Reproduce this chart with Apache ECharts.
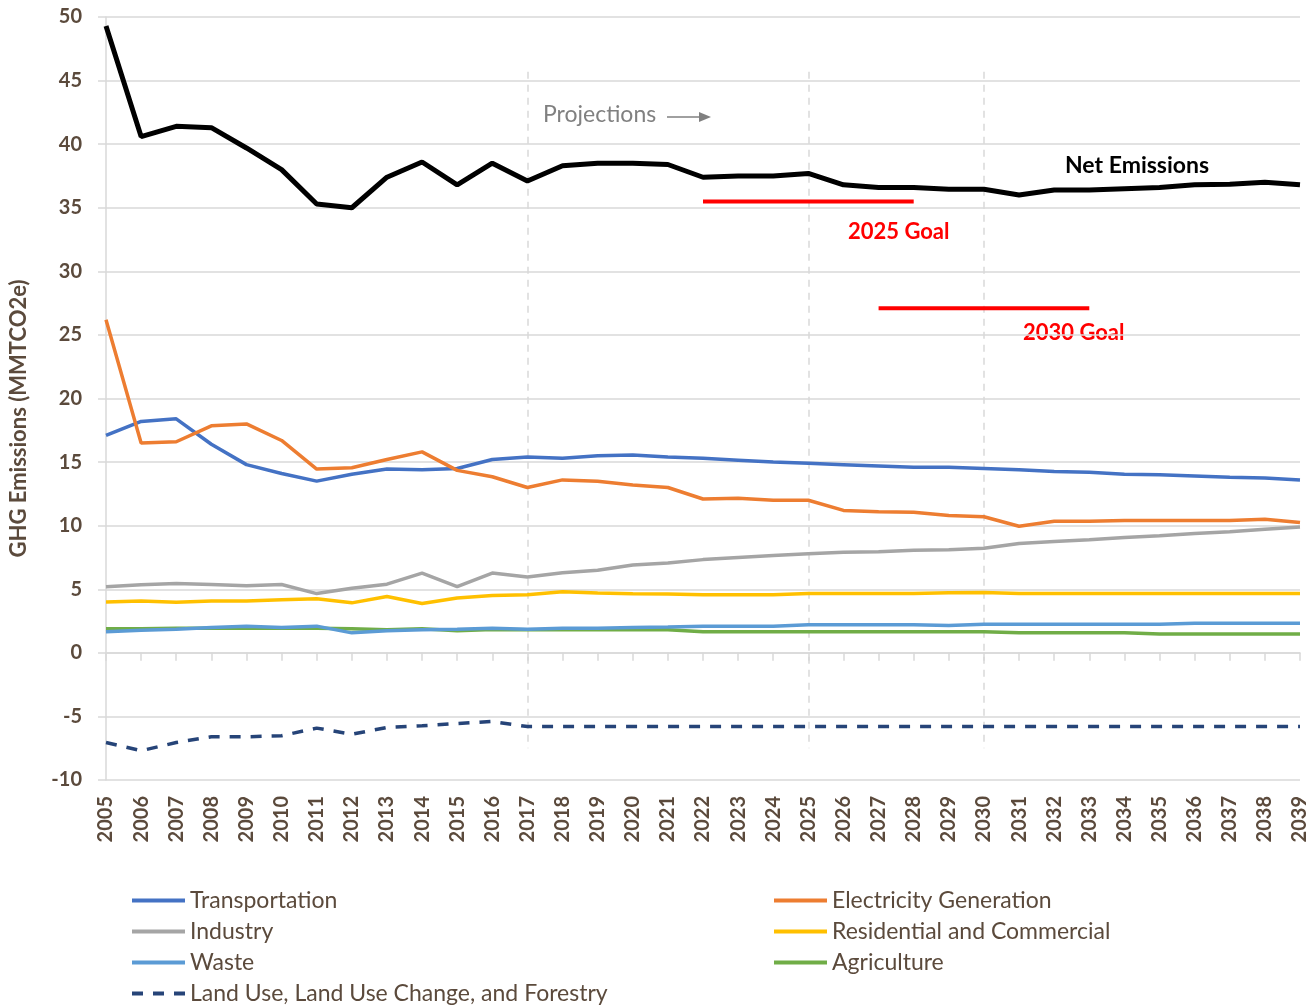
<!doctype html>
<html>
<head>
<meta charset="utf-8">
<title>GHG Emissions</title>
<script src="https://cdn.jsdelivr.net/npm/echarts@6/dist/echarts.min.js"></script>
<style>
	html, body { margin: 0; padding: 0; background: #fff; }
	#chart { width: 1316px; height: 1006px; }
</style>
</head>
<body>
<div id="chart"></div>
<script>
var years = ["2005", "2006", "2007", "2008", "2009", "2010", "2011", "2012", "2013", "2014", "2015", "2016", "2017", "2018", "2019", "2020", "2021", "2022", "2023", "2024", "2025", "2026", "2027", "2028", "2029", "2030", "2031", "2032", "2033", "2034", "2035", "2036", "2037", "2038", "2039"];
var netEmissions = [49.3, 40.6, 41.4, 41.3, 39.7, 38.0, 35.3, 35.0, 37.4, 38.6, 36.8, 38.5, 37.1, 38.3, 38.5, 38.5, 38.4, 37.4, 37.5, 37.5, 37.7, 36.8, 36.6, 36.6, 36.45, 36.45, 36.0, 36.4, 36.4, 36.5, 36.6, 36.8, 36.85, 37.0, 36.8];
var transportation = [17.1, 18.2, 18.4, 16.4, 14.8, 14.1, 13.5, 14.05, 14.45, 14.4, 14.5, 15.2, 15.4, 15.3, 15.5, 15.55, 15.4, 15.3, 15.15, 15.0, 14.9, 14.8, 14.7, 14.6, 14.6, 14.5, 14.4, 14.25, 14.2, 14.05, 14.0, 13.9, 13.8, 13.75, 13.6];
var electricity = [26.2, 16.5, 16.6, 17.85, 18.0, 16.7, 14.45, 14.55, 15.2, 15.8, 14.35, 13.85, 13.0, 13.6, 13.5, 13.2, 13.0, 12.1, 12.15, 12.0, 12.0, 11.2, 11.1, 11.05, 10.8, 10.7, 9.95, 10.35, 10.35, 10.4, 10.4, 10.4, 10.4, 10.5, 10.25];
var industry = [5.2, 5.35, 5.45, 5.37, 5.27, 5.37, 4.66, 5.08, 5.4, 6.27, 5.2, 6.27, 5.97, 6.3, 6.5, 6.9, 7.07, 7.33, 7.5, 7.65, 7.8, 7.9, 7.95, 8.07, 8.1, 8.23, 8.6, 8.75, 8.9, 9.06, 9.2, 9.38, 9.53, 9.72, 9.9];
var residential = [4.0, 4.08, 3.98, 4.08, 4.08, 4.17, 4.25, 3.93, 4.43, 3.88, 4.32, 4.5, 4.56, 4.8, 4.7, 4.64, 4.62, 4.56, 4.56, 4.56, 4.66, 4.66, 4.66, 4.66, 4.72, 4.74, 4.66, 4.66, 4.66, 4.66, 4.66, 4.66, 4.66, 4.66, 4.66];
var waste = [1.65, 1.78, 1.86, 1.99, 2.1, 1.99, 2.1, 1.57, 1.73, 1.81, 1.86, 1.94, 1.86, 1.94, 1.94, 1.99, 2.04, 2.1, 2.1, 2.1, 2.2, 2.2, 2.2, 2.2, 2.15, 2.25, 2.25, 2.25, 2.25, 2.25, 2.25, 2.33, 2.33, 2.33, 2.33];
var agriculture = [1.89, 1.89, 1.94, 1.94, 1.94, 1.94, 1.94, 1.89, 1.81, 1.89, 1.73, 1.84, 1.81, 1.81, 1.81, 1.81, 1.81, 1.65, 1.65, 1.65, 1.65, 1.65, 1.65, 1.65, 1.65, 1.65, 1.57, 1.57, 1.57, 1.57, 1.49, 1.49, 1.49, 1.49, 1.49];
var landUse = [-7.05, -7.7, -7.05, -6.6, -6.6, -6.52, -5.92, -6.4, -5.87, -5.74, -5.56, -5.4, -5.8, -5.8, -5.8, -5.8, -5.8, -5.8, -5.8, -5.8, -5.8, -5.8, -5.8, -5.8, -5.8, -5.8, -5.8, -5.8, -5.8, -5.8, -5.8, -5.8, -5.8, -5.8, -5.8];
var goal2025Years = ["2022", "2028"];
var goal2025Value = 35.5;
var goal2030Years = ["2027", "2033"];
var goal2030Value = 27.1;
var dividerYears = ["2017", "2025", "2030"];
var dividerRange = [45.7, -7.5];

var chart = echarts.init(document.getElementById("chart"));
var brown = "#5b4a3c";
var gridGray = "#d9d9d9";
var font = "Lato";

function lineSeries(name, data, color, width, dash) {
	return {
		name: name,
		type: "line",
		data: data,
		symbol: "none",
		smooth: false,
		lineStyle: { color: color, width: width, type: dash || "solid" },
		itemStyle: { color: color },
		z: 3
	};
}

var dividerLines = dividerYears.map(function(y) {
	return [{ coord: [y, dividerRange[0]] }, { coord: [y, dividerRange[1]] }];
});

var series = [
	lineSeries("Transportation", transportation, "#4472C4", 3.5),
	lineSeries("Electricity Generation", electricity, "#ED7D31", 3.5),
	lineSeries("Industry", industry, "#A5A5A5", 3.5),
	lineSeries("Residential and Commercial", residential, "#FFC000", 3.5),
	lineSeries("Agriculture", agriculture, "#70AD47", 3.5),
	lineSeries("Waste", waste, "#5B9BD5", 3.5),
	lineSeries("Land Use, Land Use Change, and Forestry", landUse, "#264478", 3.5, [11, 10]),
	{
		name: "Net Emissions",
		type: "line",
		data: netEmissions,
		symbol: "none",
		lineStyle: { color: "#000", width: 5 },
		itemStyle: { color: "#000" },
		z: 4,
		markLine: {
			silent: true,
			symbol: "none",
			label: { show: false },
			lineStyle: { color: gridGray, width: 1.5, type: [7, 6] },
			data: dividerLines,
			z: 1
		}
	},
	{
		name: "2025 Goal",
		type: "line",
		data: [[goal2025Years[0], goal2025Value], [goal2025Years[1], goal2025Value]],
		symbol: "none",
		lineStyle: { color: "#FF0000", width: 4 },
		z: 4
	},
	{
		name: "2030 Goal",
		type: "line",
		data: [[goal2030Years[0], goal2030Value], [goal2030Years[1], goal2030Value]],
		symbol: "none",
		lineStyle: { color: "#FF0000", width: 4 },
		z: 4
	}
];

var legendText = { color: brown, fontFamily: font, fontSize: 23, lineHeight: 22 };

function legendBlock(names, left) {
	return {
		data: names,
		orient: "vertical",
		left: left,
		top: 889,
		height: 130,
		padding: 0,
		itemWidth: 53,
		itemHeight: 22,
		itemGap: 8,
		itemStyle: { opacity: 0 },
		lineStyle: { width: 4 },
		textStyle: legendText,
		selectedMode: false
	};
}

chart.setOption({
	animation: false,
	grid: { left: 101, right: 16, top: 17, bottom: 226 },
	legend: [
		legendBlock(["Transportation", "Industry", "Waste", "Land Use, Land Use Change, and Forestry"], 130),
		legendBlock(["Electricity Generation", "Residential and Commercial", "Agriculture"], 772)
	],
	xAxis: [{
		type: "category",
		data: years,
		boundaryGap: false,
		position: "bottom",
		axisLine: { show: false, onZero: false },
		axisTick: { show: false },
		splitLine: { show: false },
		axisLabel: {
			interval: 0,
			rotate: 90,
			margin: 16,
			color: brown,
			fontFamily: font,
			fontWeight: "bold",
			fontSize: 20
		}
	}, {
		type: "category",
		data: years,
		boundaryGap: false,
		position: "bottom",
		axisLine: { show: true, onZero: true, lineStyle: { color: gridGray, width: 1.5 } },
		axisTick: { show: true, interval: 0, length: 8, lineStyle: { color: gridGray, width: 1.5 } },
		axisLabel: { show: false },
		splitLine: { show: false }
	}],
	yAxis: {
		type: "value",
		min: -10,
		max: 50,
		interval: 5,
		name: "GHG Emissions (MMTCO2e)",
		nameLocation: "middle",
		nameGap: 76,
		nameTextStyle: { color: brown, fontFamily: font, fontWeight: "bold", fontSize: 22, padding: [0, 40, 0, 0] },
		axisLine: { show: true, lineStyle: { color: gridGray, width: 1.5 } },
		axisTick: { show: true, length: 8, lineStyle: { color: gridGray, width: 1.5 } },
		splitLine: { show: true, lineStyle: { color: gridGray, width: 1.5 } },
		axisLabel: {
			margin: 24,
			color: brown,
			fontFamily: font,
			fontWeight: "bold",
			fontSize: 20
		}
	},
	graphic: [
		{ type: "text", x: 543, y: 115, style: { text: "Projections", fill: "#808080", font: "23px Lato", verticalAlign: "middle" } },
		{ type: "line", shape: { x1: 667, y1: 117, x2: 700, y2: 117 }, style: { stroke: "#808080", lineWidth: 1.5 } },
		{ type: "polygon", shape: { points: [[699, 112], [711, 117], [699, 122]] }, style: { fill: "#808080" } },
		{ type: "text", x: 1065, y: 166, style: { text: "Net Emissions", fill: "#000", font: "bold 23px Lato", verticalAlign: "middle" } },
		{ type: "text", x: 848, y: 232, style: { text: "2025 Goal", fill: "#FF0000", font: "bold 22px Lato", verticalAlign: "middle" } },
		{ type: "text", x: 1023, y: 333, style: { text: "2030 Goal", fill: "#FF0000", font: "bold 22px Lato", verticalAlign: "middle" } }
	],
	series: series
});
</script>
</body>
</html>
